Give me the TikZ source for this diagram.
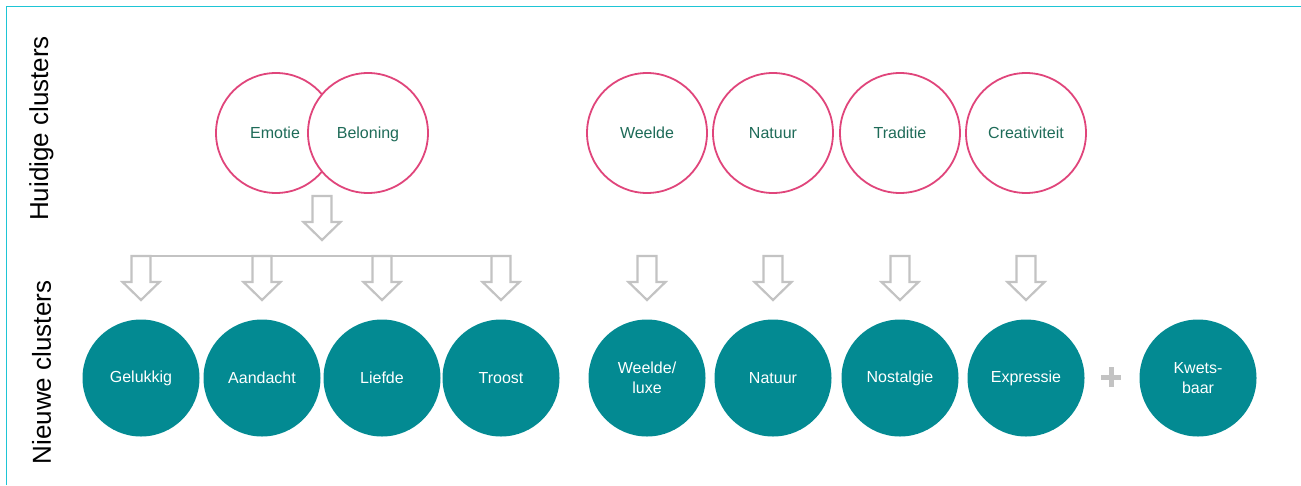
\documentclass[tikz,border=0pt]{standalone}
\usepackage{fontspec}
\setmainfont{Liberation Sans}
\definecolor{pinkc}{HTML}{E0457B}
\definecolor{tealc}{HTML}{038A92}
\definecolor{greentxt}{HTML}{1E6B58}
\definecolor{arrgray}{HTML}{C3C3C3}
\definecolor{framec}{HTML}{1EC5D5}
\tikzset{
  oldc/.style={circle, draw=pinkc, fill=white, line width=1.8pt, minimum size=120pt, inner sep=0pt,
    text=greentxt, font=\fontsize{16}{20}\selectfont},
  newc/.style={circle, fill=tealc, minimum size=117pt, inner sep=0pt,
    text=white, align=center, font=\fontsize{16}{20}\selectfont},
  sidelabel/.style={rotate=90, font=\fontsize{26}{30}\selectfont, text=black},
  arrline/.style={draw=arrgray, line width=2.2pt, line join=miter, fill=white},
  hline/.style={draw=arrgray, line width=2pt},
  pics/blockarr/.style={code={
    \path[arrline] (-9.5,0) -- (9.5,0) -- (9.5,26) -- (18.5,26) -- (0,44) -- (-18.5,26) -- (-9.5,26) -- cycle;
  }}
}
\begin{document}
\begin{tikzpicture}[x=1pt,y=-1pt]
\useasboundingbox (0,0) rectangle (1301,485);
% frame
\draw[framec, line width=1.5pt] (6.5,485) -- (6.5,6.5) -- (1301,6.5);

% side labels
\node[sidelabel] (lblold) at (41.5,128.5) {Huidige clusters};
\node[sidelabel] (lblnew) at (41.5,372.5) {Nieuwe clusters};

% current clusters
\node[oldc] (emotie) at (276,133) {};
\node[oldc] (beloning) at (368,133) {};
\node[text=greentxt, font=\fontsize{16}{20}\selectfont] (emotiet) at (275,133) {Emotie};
\node[text=greentxt, font=\fontsize{16}{20}\selectfont] (beloningt) at (368,134.5) {Beloning};
\node[oldc] (weelde) at (647,133) {Weelde};
\node[oldc] (natuur) at (773,133) {Natuur};
\node[oldc] (traditie) at (900,133) {Traditie};
\node[oldc] (creat) at (1026,133) {Creativiteit};

% new clusters
\node[newc] (gelukkig) at (141,378) {Gelukkig};
\node[newc] (aandacht) at (262,378) {Aandacht};
\node[newc] (liefde) at (382,378) {Liefde};
\node[newc] (troost) at (501,378) {Troost};
\node[newc] (weeldeluxe) at (647,378) {Weelde/\\luxe};
\node[newc] (natuurn) at (773,378) {Natuur};
\node[newc] (nostalgie) at (900,378) {Nostalgie};
\node[newc] (expressie) at (1026,378) {Expressie};
\node[newc] (kwetsbaar) at (1198,378) {Kwets-\\baar};

% plus
\coordinate (plus) at (1111,377);
\draw[arrgray, line width=5pt] ([xshift=-10pt]plus) -- ([xshift=10pt]plus);
\draw[arrgray, line width=5pt] ([yshift=-10pt]plus) -- ([yshift=10pt]plus);

% arrows
\coordinate (splitL) at (131.5,256);
\coordinate (splitR) at (510.5,256);
\draw[hline] (splitL) -- (splitR);
\pic at (322,196) {blockarr};
\pic at (141,256) {blockarr};
\pic at (262,256) {blockarr};
\pic at (382,256) {blockarr};
\pic at (501,256) {blockarr};
\pic at (647,256) {blockarr};
\pic at (773,256) {blockarr};
\pic at (900,256) {blockarr};
\pic at (1026,256) {blockarr};
\end{tikzpicture}
\end{document}
